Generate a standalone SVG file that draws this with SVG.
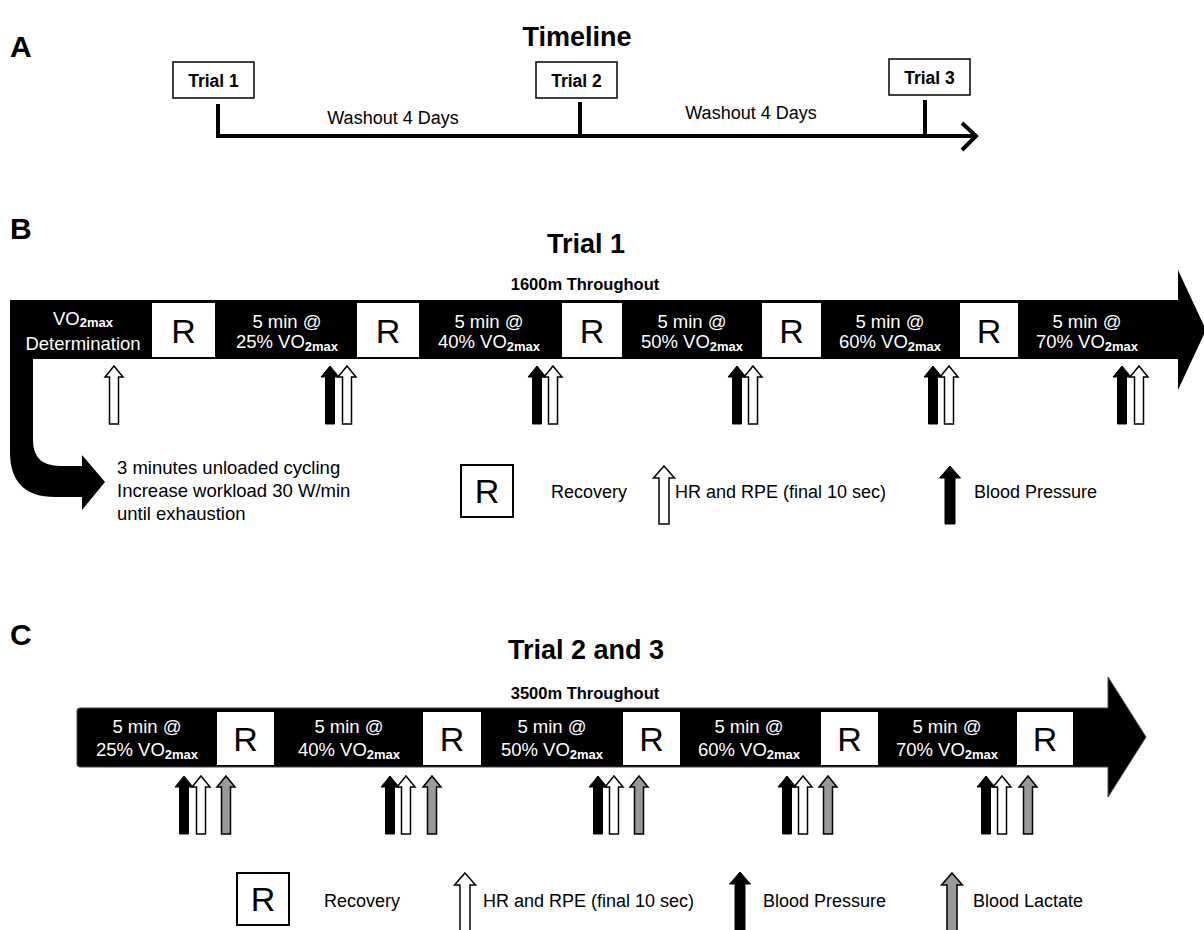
<svg xmlns="http://www.w3.org/2000/svg" xmlns:xlink="http://www.w3.org/1999/xlink" width="1204" height="930" viewBox="0 0 1204 930">
<style>
text{font-family:"Liberation Sans",Arial,sans-serif;}
.panel{font-size:30px;font-weight:bold;}
.title{font-size:27px;font-weight:bold;text-anchor:middle;}
.sub{font-size:16.5px;font-weight:bold;text-anchor:middle;}
.trial{font-size:17.5px;font-weight:bold;text-anchor:middle;}
.wash{font-size:18px;text-anchor:middle;}
.seg{font-size:18.5px;fill:#fff;text-anchor:middle;}
.sb{font-size:13px;font-weight:bold;}
.rbox{fill:#fff;}
.rtxt{font-size:34px;text-anchor:middle;}
.lbox{fill:#fff;stroke:#000;stroke-width:2;}
.leg{font-size:18px;}
.note{font-size:18.5px;}
.open{fill:#fff;stroke:#000;stroke-width:1.5;}
.solid{fill:#000;stroke:#000;stroke-width:1;}
.gray{fill:#999;stroke:#000;stroke-width:1.5;}
.line{stroke:#000;stroke-width:4;fill:none;}
</style>
<defs>
<path id="up" d="M0,0 L9,11 L4.5,11 L4.5,58 L-4.5,58 L-4.5,11 L-9,11 Z"/>
<path id="upL" d="M0,0 L10.5,12 L5,12 L5,58 L-5,58 L-5,12 L-10.5,12 Z"/>
</defs>

<!-- Panel A -->
<g id="panelA">
<text class="panel" x="10" y="57">A</text>
<text class="title" x="577" y="46">Timeline</text>
<g id="trial1"><rect x="173" y="62" width="81" height="36" fill="#fff" stroke="#000" stroke-width="1.5"/><text class="trial" x="213.5" y="86.5">Trial 1</text></g>
<g id="trial2"><rect x="536" y="62" width="81" height="36" fill="#fff" stroke="#000" stroke-width="1.5"/><text class="trial" x="576.5" y="86.5">Trial 2</text></g>
<g id="trial3"><rect x="889" y="59" width="81" height="36" fill="#fff" stroke="#000" stroke-width="1.5"/><text class="trial" x="929.5" y="83.5">Trial 3</text></g>
<g id="timeline-connectors">
<path class="line" d="M218,104 V136 H976"/>
<path class="line" d="M580,102 V136"/>
<path class="line" d="M925,100 V136"/>
<polyline class="line" points="962,123 976,136 962,150"/>
</g>
<text class="wash" x="393" y="124">Washout 4 Days</text>
<text class="wash" x="751" y="119">Washout 4 Days</text>
</g>

<!-- Panel B -->
<g id="panelB">
<text class="panel" x="10" y="239">B</text>
<text class="title" x="586" y="253">Trial 1</text>
<text class="sub" x="585" y="290">1600m Throughout</text>
<g id="barB">
<path d="M10,300 H1178 V270 L1206,330 L1178,390 V359 H33 V440 Q33,466 60,466 H82 V455 L105,482 L82,510 V497 H55 Q10,497 10,452 Z" fill="#000"/>
<rect class="rbox" x="152" y="303" width="63" height="54"/>
<rect class="rbox" x="357" y="303" width="62" height="54"/>
<rect class="rbox" x="562" y="303" width="60" height="54"/>
<rect class="rbox" x="762" y="303" width="59" height="54"/>
<rect class="rbox" x="960" y="303" width="58" height="54"/>
<text class="rtxt" x="183.5" y="343">R</text>
<text class="rtxt" x="388" y="343">R</text>
<text class="rtxt" x="592" y="343">R</text>
<text class="rtxt" x="791.5" y="343">R</text>
<text class="rtxt" x="989" y="343">R</text>
<text class="seg" x="83" y="325">VO<tspan class="sb" dy="2">2max</tspan></text>
<text class="seg" x="83" y="350">Determination</text>
<text class="seg" x="287" y="328">5 min @</text>
<text class="seg" x="287" y="348">25% VO<tspan class="sb" dy="3">2max</tspan></text>
<text class="seg" x="489" y="328">5 min @</text>
<text class="seg" x="489" y="348">40% VO<tspan class="sb" dy="3">2max</tspan></text>
<text class="seg" x="692" y="328">5 min @</text>
<text class="seg" x="692" y="348">50% VO<tspan class="sb" dy="3">2max</tspan></text>
<text class="seg" x="890" y="328">5 min @</text>
<text class="seg" x="890" y="348">60% VO<tspan class="sb" dy="3">2max</tspan></text>
<text class="seg" x="1087" y="328">5 min @</text>
<text class="seg" x="1087" y="348">70% VO<tspan class="sb" dy="3">2max</tspan></text>
</g>
<g id="markersB">
<use href="#up" class="open" x="114" y="366"/>
<use href="#up" class="solid" x="330" y="366"/><use href="#up" class="open" x="347" y="366"/>
<use href="#up" class="solid" x="537" y="366"/><use href="#up" class="open" x="553" y="366"/>
<use href="#up" class="solid" x="737" y="366"/><use href="#up" class="open" x="753" y="366"/>
<use href="#up" class="solid" x="933" y="366"/><use href="#up" class="open" x="949" y="366"/>
<use href="#up" class="solid" x="1122" y="366"/><use href="#up" class="open" x="1139" y="366"/>
</g>
<text class="note" x="117" y="474">3 minutes unloaded cycling</text>
<text class="note" x="117" y="497">Increase workload 30 W/min</text>
<text class="note" x="117" y="520">until exhaustion</text>
<g id="legendB">
<rect class="lbox" x="461" y="465" width="52" height="52"/>
<text class="rtxt" x="487" y="503">R</text>
<text class="leg" x="551" y="498">Recovery</text>
<use href="#upL" class="open" x="664" y="466"/>
<text class="leg" x="675" y="498">HR and RPE (final 10 sec)</text>
<use href="#upL" class="solid" x="950" y="466"/>
<text class="leg" x="974" y="498">Blood Pressure</text>
</g>
</g>

<!-- Panel C -->
<g id="panelC">
<text class="panel" x="10" y="645">C</text>
<text class="title" x="586" y="659">Trial 2 and 3</text>
<text class="sub" x="585" y="699">3500m Throughout</text>
<g id="barC">
<path d="M80,708 H1108 V677 L1146,737 L1108,797 V767 H80 Q77,767 77,764 V711 Q77,708 80,708 Z" fill="#000" stroke="#444" stroke-width="1"/>
<rect class="rbox" x="217" y="712" width="57" height="53"/>
<rect class="rbox" x="423" y="712" width="58" height="53"/>
<rect class="rbox" x="623" y="712" width="57" height="53"/>
<rect class="rbox" x="821" y="712" width="57" height="53"/>
<rect class="rbox" x="1017" y="712" width="56" height="53"/>
<text class="rtxt" x="245.5" y="751">R</text>
<text class="rtxt" x="452" y="751">R</text>
<text class="rtxt" x="651.5" y="751">R</text>
<text class="rtxt" x="849.5" y="751">R</text>
<text class="rtxt" x="1045" y="751">R</text>
<text class="seg" x="147" y="733">5 min @</text>
<text class="seg" x="147" y="756">25% VO<tspan class="sb" dy="3">2max</tspan></text>
<text class="seg" x="349" y="733">5 min @</text>
<text class="seg" x="349" y="756">40% VO<tspan class="sb" dy="3">2max</tspan></text>
<text class="seg" x="552" y="733">5 min @</text>
<text class="seg" x="552" y="756">50% VO<tspan class="sb" dy="3">2max</tspan></text>
<text class="seg" x="749" y="733">5 min @</text>
<text class="seg" x="749" y="756">60% VO<tspan class="sb" dy="3">2max</tspan></text>
<text class="seg" x="947" y="733">5 min @</text>
<text class="seg" x="947" y="756">70% VO<tspan class="sb" dy="3">2max</tspan></text>
</g>
<g id="markersC">
<use href="#up" class="solid" x="184" y="776"/><use href="#up" class="open" x="201" y="776"/><use href="#up" class="gray" x="226" y="776"/>
<use href="#up" class="solid" x="390" y="776"/><use href="#up" class="open" x="406" y="776"/><use href="#up" class="gray" x="432" y="776"/>
<use href="#up" class="solid" x="598" y="776"/><use href="#up" class="open" x="614" y="776"/><use href="#up" class="gray" x="639" y="776"/>
<use href="#up" class="solid" x="787" y="776"/><use href="#up" class="open" x="803" y="776"/><use href="#up" class="gray" x="828" y="776"/>
<use href="#up" class="solid" x="986" y="776"/><use href="#up" class="open" x="1002" y="776"/><use href="#up" class="gray" x="1028" y="776"/>
</g>
<g id="legendC">
<rect class="lbox" x="237" y="873" width="52" height="52"/>
<text class="rtxt" x="263" y="911">R</text>
<text class="leg" x="324" y="907">Recovery</text>
<use href="#upL" class="open" x="465" y="873"/>
<text class="leg" x="483" y="907">HR and RPE (final 10 sec)</text>
<use href="#upL" class="solid" x="740" y="872"/>
<text class="leg" x="763" y="907">Blood Pressure</text>
<use href="#upL" class="gray" x="952" y="873"/>
<text class="leg" x="973" y="907">Blood Lactate</text>
</g>
</g>
</svg>
